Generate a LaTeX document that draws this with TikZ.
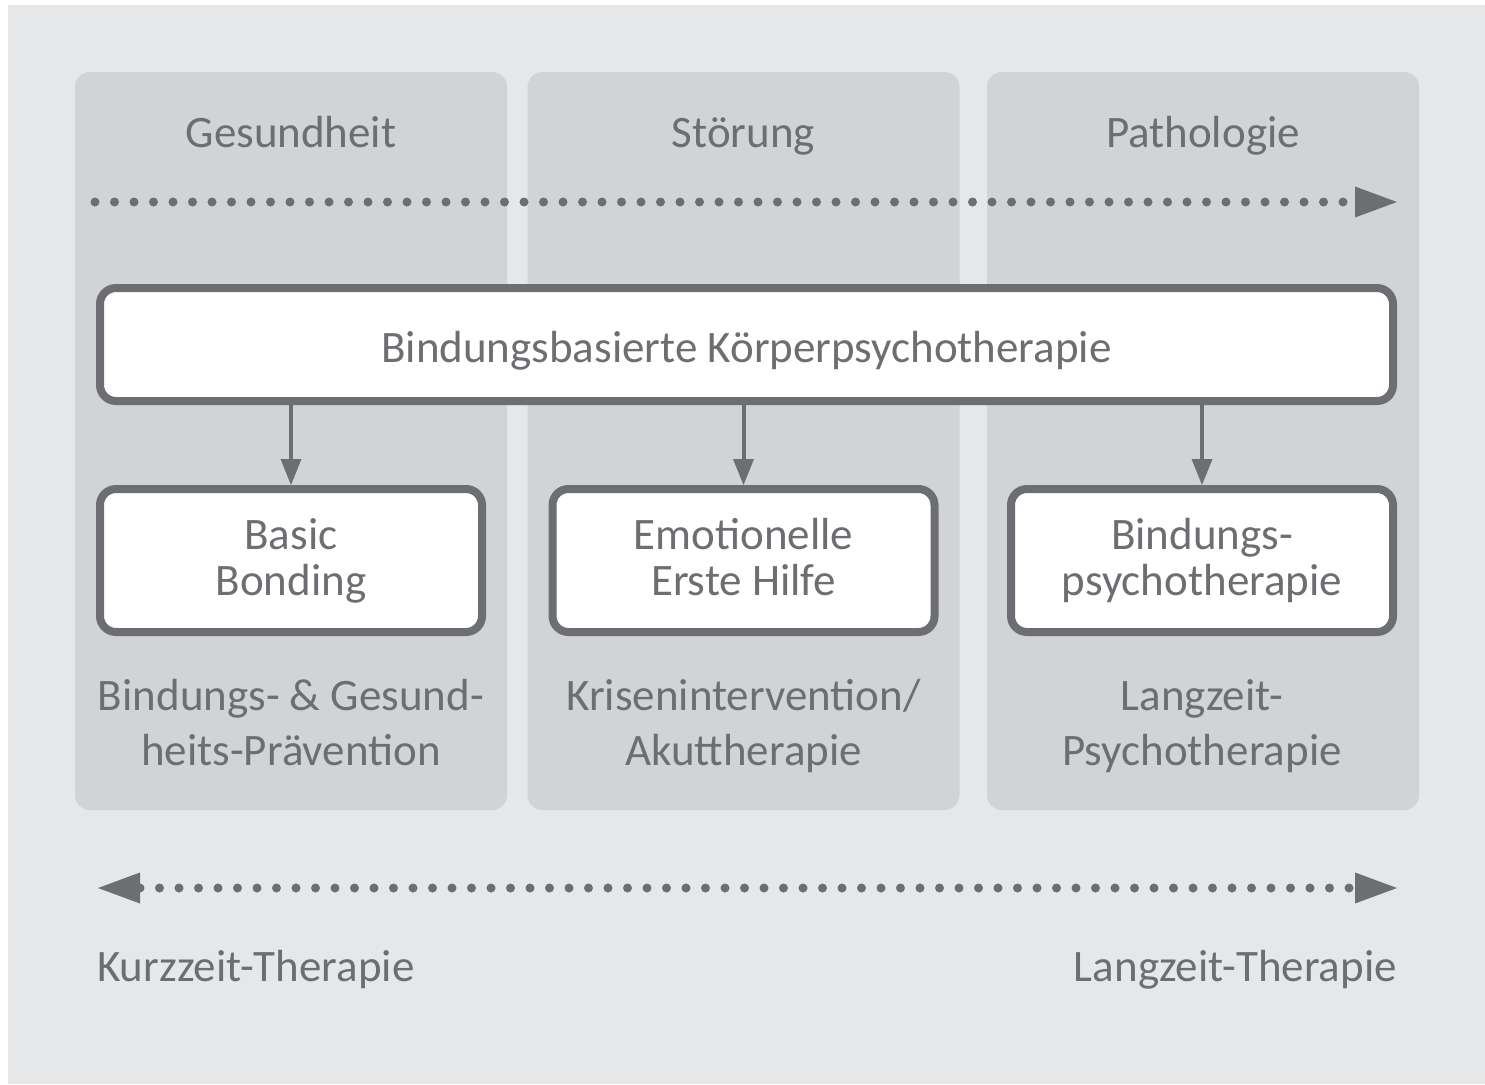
\documentclass[tikz,border=0pt]{standalone}
\usepackage{fontspec}
\setmainfont{Carlito}
\usetikzlibrary{arrows.meta,positioning}
\definecolor{bglight}{HTML}{E6E7E8}
\definecolor{panelgray}{HTML}{D1D3D4}
\definecolor{linegray}{HTML}{6D6E71}

\begin{document}
\begin{tikzpicture}[x=1pt,y=-1pt,on grid,
   every node/.style={text=linegray,font=\fontsize{45}{46}\selectfont},
   panel/.style={fill=panelgray,rounded corners=15pt,minimum width=432pt,minimum height=738pt,inner sep=0pt},
   title/.style={inner sep=0pt,anchor=base},
   box/.style={draw=linegray,line width=8pt,fill=white,rounded corners=16pt,align=center,inner sep=0pt},
   small/.style={box,minimum width=382pt,minimum height=143pt,execute at end node=\vphantom{g}},
   sub/.style={align=center,inner sep=0pt,font=\fontsize{45}{55}\selectfont,execute at end node=\vphantom{g}},
   down/.style={draw=linegray,line width=4pt,-{Triangle[width=21pt,length=26pt,line width=0pt]}},
   dots/.style={draw=linegray,line width=9pt,line cap=round,dash pattern=on 0pt off 19.5pt},
   tip/.tip={Triangle[width=31pt,length=42pt,line width=0pt]}]
   \useasboundingbox (0,0) rectangle (1485,1084);
   \fill[bglight] (8,5) rectangle (1485,1084);

   % columns
   \node[panel] (gesundP) at (291,441) {};
   \node[panel] (stoerP)  [right=452.5pt of gesundP] {};
   \node[panel] (pathoP)  [right=459.5pt of stoerP]  {};

   \node[title] (gesund) at (291,147)   {Gesundheit};
   \node[title] (stoer)  at (743.5,147) {Störung};
   \node[title] (patho)  at (1203,147)  {Pathologie};

   \coordinate (topL) at (95,202);
   \coordinate (topR) at (1397,202);
   \draw[dots,-tip] (topL) -- (topR);

   % boxes
   \node[box,minimum width=1293pt,minimum height=113pt,text height=37pt,text depth=1pt] (bkp) at (746.5,344.5)
        {Bindungsbasierte Körperpsychotherapie};
   \node[small] (basic) at (291,560.5)         {Basic\\Bonding};
   \node[small] (efh)   [right=452.5pt of basic] {Emotionelle\\Erste Hilfe};
   \node[small] (bpt)   [right=458.5pt of efh]   {Bindungs-\\psychotherapie};

   \node[sub] (praev) [below=166pt of basic] {Bindungs- \& Gesund-\\heits-Prävention};
   \node[sub] (krise) [below=166pt of efh]   {Krisenintervention/\\Akuttherapie};
   \node[sub] (lzpt)  [below=166pt of bpt]   {Langzeit-\\Psychotherapie};

   \draw[down] (bkp.south -| basic.north) -- (basic.north);
   \draw[down] (bkp.south -| efh.north)   -- (efh.north);
   \draw[down] (bkp.south -| bpt.north)   -- (bpt.north);

   % duration
   \coordinate (botL) at (98,888);
   \coordinate (botR) at (1397,888);
   \draw[dots,tip-tip] (botL) -- (botR);

   \node[title,anchor=base west] (kurz) at (97,981)   {Kurzzeit-Therapie};
   \node[title,anchor=base east] (lang) at (1397,981) {Langzeit-Therapie};
\end{tikzpicture}
\end{document}
